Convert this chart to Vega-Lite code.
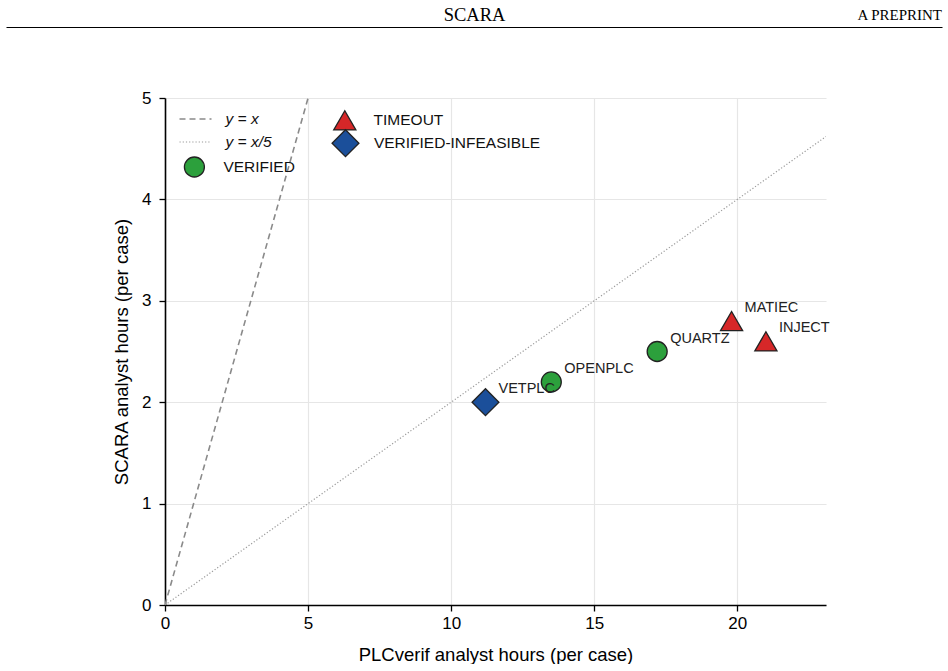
{
  "$schema": "https://vega.github.io/schema/vega-lite/v6.json",
  "padding": {"left": 6, "top": 5, "right": 0, "bottom": 0},
  "background": "white",
  "spacing": 58,
  "config": {
    "font": "Liberation Sans",
    "view": {"stroke": null},
    "axis": {"labelFont": "Liberation Sans", "titleFont": "Liberation Sans", "labelColor": "black", "titleColor": "black", "titleFontWeight": "normal", "domainColor": "black", "tickColor": "black"},
    "legend": {"labelFont": "Liberation Sans", "labelFontSize": 15.5, "labelColor": "#111", "padding": 0, "orient": "none", "labelLimit": 0, "symbolStrokeWidth": 1.3}
  },
  "datasets": {
    "header": [{"h": 0.5}],
    "refs": [
      {"line": "y = x", "x": 0, "y": 0},
      {"line": "y = x", "x": 5, "y": 5},
      {"line": "y = x/5", "x": 0, "y": 0},
      {"line": "y = x/5", "x": 23.1, "y": 4.62}
    ],
    "cases": [
      {"tool": "VETPLC", "status": "VERIFIED-INFEASIBLE", "x": 11.2, "y": 2.0},
      {"tool": "OPENPLC", "status": "VERIFIED", "x": 13.5, "y": 2.2},
      {"tool": "QUARTZ", "status": "VERIFIED", "x": 17.2, "y": 2.5},
      {"tool": "MATIEC", "status": "TIMEOUT", "x": 19.8, "y": 2.8},
      {"tool": "INJECT", "status": "TIMEOUT", "x": 21.0, "y": 2.6}
    ]
  },
  "vconcat": [
    {
      "width": 936,
      "height": 1,
      "data": {"name": "header"},
      "mark": {"type": "point", "opacity": 0},
      "encoding": {
        "x": {"field": "h", "type": "quantitative", "scale": {"domain": [0, 1]},
          "axis": {"orient": "top", "position": -159, "title": "SCARA", "domain": true, "domainColor": "black", "domainWidth": 1.2, "ticks": false, "labels": false, "grid": false, "minExtent": 0, "titleFont": "Liberation Serif", "titleFontSize": 18.5, "titleBaseline": "alphabetic", "titlePadding": 7}}
      },
      "title": {"text": "A PREPRINT", "anchor": "end", "font": "Liberation Serif", "fontSize": 15, "fontWeight": "normal", "color": "black", "offset": -30, "dx": -159, "baseline": "alphabetic"}
    },
    {
      "width": 661,
      "height": 507,
      "encoding": {
        "x": {"field": "x", "type": "quantitative", "scale": {"domain": [0, 23.1], "nice": false},
          "axis": {"values": [0, 5, 10, 15, 20], "title": "PLCverif analyst hours (per case)", "labelFontSize": 17, "titleFontSize": 18.5, "grid": true, "gridColor": "#e6e6e6", "gridWidth": 1.2, "domainWidth": 1.6, "tickSize": 6, "tickWidth": 1.3, "labelPadding": 4, "titlePadding": 14, "labelFlush": false}},
        "y": {"field": "y", "type": "quantitative", "scale": {"domain": [0, 5], "nice": false},
          "axis": {"values": [0, 1, 2, 3, 4, 5], "title": "SCARA analyst hours (per case)", "labelFontSize": 17, "titleFontSize": 18.5, "grid": true, "gridColor": "#e6e6e6", "gridWidth": 1.2, "domainWidth": 1.6, "tickSize": 6, "tickWidth": 1.3, "labelPadding": 8, "titlePadding": 4, "titleX": -34, "titleY": 253.5}}
      },
      "layer": [
        {
          "data": {"name": "refs"},
          "mark": {"type": "line", "clip": true},
          "encoding": {
            "strokeDash": {"field": "line", "type": "nominal", "scale": {"domain": ["y = x", "y = x/5"], "range": [[6, 4], [1.2, 2]]},
              "legend": {"title": null, "legendX": 19.5, "legendY": 10, "symbolType": "M-1.6,0H1.6", "symbolSize": 400, "symbolStrokeWidth": 1.5, "labelOffset": 19, "labelFontStyle": "italic", "rowPadding": 3}},
            "color": {"field": "line", "type": "nominal", "scale": {"domain": ["y = x", "y = x/5"], "range": ["#8a8a8a", "#9a9a9a"]}},
            "strokeWidth": {"field": "line", "type": "nominal", "scale": {"domain": ["y = x", "y = x/5"], "range": [1.6, 1.2]}}
          }
        },
        {
          "data": {"name": "cases"},
          "transform": [{"filter": "datum.status === 'VERIFIED'"}],
          "mark": {"type": "point", "filled": true, "size": 400, "strokeWidth": 1.3, "opacity": 1},
          "encoding": {
            "shape": {"field": "status", "type": "nominal", "scale": {"domain": ["VERIFIED"], "range": ["circle"]},
              "legend": {"title": null, "legendX": 18.4, "legendY": 58, "symbolSize": 400, "labelOffset": 18, "symbolOpacity": 1}},
            "fill": {"field": "status", "type": "nominal", "scale": {"domain": ["VERIFIED"], "range": ["#2ca03c"]}},
            "stroke": {"field": "status", "type": "nominal", "scale": {"domain": ["VERIFIED"], "range": ["#222222"]}}
          }
        },
        {
          "data": {"name": "cases"},
          "transform": [{"filter": "datum.status === 'TIMEOUT'"}],
          "mark": {"type": "point", "filled": true, "size": 490, "strokeWidth": 1.3, "opacity": 1},
          "encoding": {
            "shape": {"field": "status", "type": "nominal", "scale": {"domain": ["TIMEOUT"], "range": ["triangle-up"]},
              "legend": {"title": null, "legendX": 167.8, "legendY": 10.3, "symbolSize": 490, "labelOffset": 16.8, "symbolOpacity": 1}},
            "fill": {"field": "status", "type": "nominal", "scale": {"domain": ["TIMEOUT"], "range": ["#d62728"]}},
            "stroke": {"field": "status", "type": "nominal", "scale": {"domain": ["TIMEOUT"], "range": ["#222222"]}}
          }
        },
        {
          "data": {"name": "cases"},
          "transform": [{"filter": "datum.status === 'VERIFIED-INFEASIBLE'"}],
          "mark": {"type": "point", "filled": true, "size": 720, "strokeWidth": 1.3, "opacity": 1},
          "encoding": {
            "shape": {"field": "status", "type": "nominal", "scale": {"domain": ["VERIFIED-INFEASIBLE"], "range": ["diamond"]},
              "legend": {"title": null, "legendX": 166, "legendY": 30.7, "symbolSize": 720, "labelOffset": 13.9, "symbolOpacity": 1}},
            "fill": {"field": "status", "type": "nominal", "scale": {"domain": ["VERIFIED-INFEASIBLE"], "range": ["#1b4f9a"]}},
            "stroke": {"field": "status", "type": "nominal", "scale": {"domain": ["VERIFIED-INFEASIBLE"], "range": ["#222222"]}}
          }
        },
        {
          "data": {"name": "cases"},
          "mark": {"type": "text", "align": "left", "baseline": "alphabetic", "dx": 13, "dy": -9, "fontSize": 14.5, "color": "#222"},
          "encoding": {
            "text": {"field": "tool", "type": "nominal"}
          }
        }
      ],
      "resolve": {"scale": {"shape": "independent", "fill": "independent", "stroke": "independent", "size": "independent", "color": "independent", "strokeDash": "independent", "strokeWidth": "independent"}}
    }
  ]
}
